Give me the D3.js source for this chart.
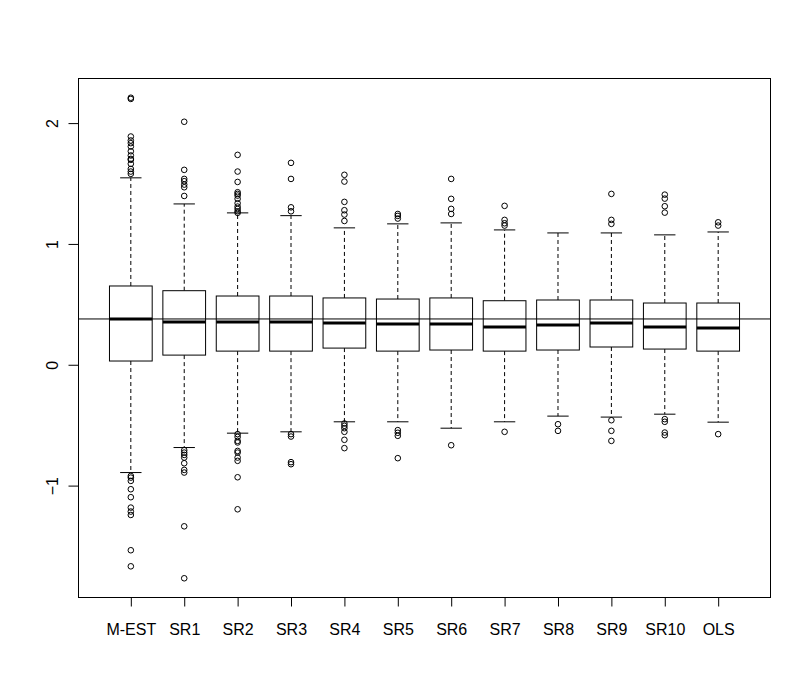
<!DOCTYPE html>
<html>
<head>
<meta charset="utf-8">
<script src="https://cdn.jsdelivr.net/npm/d3@7"></script>
<style>
    body { margin: 0; background: #fff; }
    svg { font-family: "Liberation Sans", Arial, sans-serif; }
</style>
</head>
<body>
<div id="chart"></div>
<script>
// box statistics
var categories = ["M-EST", "SR1", "SR2", "SR3", "SR4", "SR5", "SR6", "SR7", "SR8", "SR9", "SR10", "OLS"];
var q1 = [0.031, 0.080, 0.113, 0.113, 0.138, 0.113, 0.122, 0.113, 0.122, 0.147, 0.130, 0.113];
var medians = [0.379, 0.354, 0.354, 0.354, 0.345, 0.337, 0.337, 0.312, 0.329, 0.345, 0.312, 0.304];
var q3 = [0.652, 0.613, 0.569, 0.569, 0.553, 0.544, 0.553, 0.530, 0.536, 0.536, 0.511, 0.511];
var whiskerLow = [-0.892, -0.685, -0.566, -0.555, -0.472, -0.472, -0.525, -0.472, -0.425, -0.433, -0.409, -0.475];
var whiskerHigh = [1.547, 1.331, 1.257, 1.234, 1.133, 1.166, 1.174, 1.116, 1.091, 1.091, 1.075, 1.099];
var outliers = [
    [2.21, 2.20, 1.889, 1.856, 1.834, 1.806, 1.767, 1.732, 1.704, 1.696, 1.663, 1.621, 1.599, 1.580,
     -0.920, -0.934, -0.961, -1.030, -1.096, -1.182, -1.215, -1.243, -1.535, -1.668],
    [2.011, 1.613, 1.538, 1.519, 1.491, 1.469, 1.397,
     -0.707, -0.727, -0.746, -0.768, -0.815, -0.870, -0.892, -1.337, -1.767],
    [1.737, 1.599, 1.513, 1.428, 1.414, 1.400, 1.373, 1.337, 1.309, 1.290, 1.270, 1.257,
     -0.574, -0.597, -0.630, -0.643, -0.713, -0.727, -0.768, -0.795, -0.931, -1.196],
    [1.671, 1.538, 1.303, 1.270, -0.574, -0.594, -0.806, -0.823],
    [1.572, 1.516, 1.348, 1.279, 1.243, 1.190, -0.486, -0.505, -0.525, -0.555, -0.621, -0.690],
    [1.248, 1.232, 1.210, -0.541, -0.563, -0.588, -0.773],
    [1.538, 1.373, 1.290, 1.248, -0.666],
    [1.315, 1.199, 1.171, 1.152, -0.555],
    [-0.492, -0.547],
    [1.414, 1.199, 1.166, -0.459, -0.547, -0.630],
    [1.408, 1.375, 1.312, 1.259, -0.450, -0.472, -0.561, -0.583],
    [1.179, 1.152, -0.574]
];
var refLine = 0.379;
var yTicks = [-1, 0, 1, 2];

var W = 811, H = 695;
var margin = { top: 78.5, right: 40.5, bottom: 97.5, left: 78.5 },
    width = W - margin.left - margin.right,
    height = H - margin.top - margin.bottom;

var svg = d3.select("#chart").append("svg")
    .attr("width", W)
    .attr("height", H);

var g = svg.append("g")
    .attr("transform", "translate(" + margin.left + "," + margin.top + ")");

// R style ranges: padded by 4%
var allVals = d3.merge(outliers).concat(whiskerLow, whiskerHigh);
var yMin = d3.min(allVals), yMax = d3.max(allVals);
var yPad = (yMax - yMin) * 0.04;
var y = d3.scaleLinear()
    .domain([yMin - yPad, yMax + yPad])
    .range([height, 0]);

var n = categories.length;
var xPad = n * 0.04;
var x = d3.scaleLinear()
    .domain([0.5 - xPad, n + 0.5 + xPad])
    .range([0, width]);

var step = x(2) - x(1);
var boxHalf = step * 0.4;
var capHalf = boxHalf * 0.5;

var boxes = g.selectAll(".box")
    .data(categories)
    .enter().append("g")
    .attr("class", "box")
    .attr("transform", function(d, i) { return "translate(" + x(i + 1) + ",0)"; });

// dashed whiskers
boxes.append("line")
    .attr("y1", function(d, i) { return y(q3[i]); })
    .attr("y2", function(d, i) { return y(whiskerHigh[i]); })
    .attr("stroke", "#000")
    .attr("stroke-dasharray", "4,3");
boxes.append("line")
    .attr("y1", function(d, i) { return y(q1[i]); })
    .attr("y2", function(d, i) { return y(whiskerLow[i]); })
    .attr("stroke", "#000")
    .attr("stroke-dasharray", "4,3");

// staples
boxes.append("line")
    .attr("x1", -capHalf).attr("x2", capHalf)
    .attr("y1", function(d, i) { return y(whiskerHigh[i]); })
    .attr("y2", function(d, i) { return y(whiskerHigh[i]); })
    .attr("stroke", "#000");
boxes.append("line")
    .attr("x1", -capHalf).attr("x2", capHalf)
    .attr("y1", function(d, i) { return y(whiskerLow[i]); })
    .attr("y2", function(d, i) { return y(whiskerLow[i]); })
    .attr("stroke", "#000");

// the box
boxes.append("rect")
    .attr("x", -boxHalf)
    .attr("width", boxHalf * 2)
    .attr("y", function(d, i) { return y(q3[i]); })
    .attr("height", function(d, i) { return y(q1[i]) - y(q3[i]); })
    .attr("fill", "#fff")
    .attr("stroke", "#000");

// median
boxes.append("line")
    .attr("x1", -boxHalf).attr("x2", boxHalf)
    .attr("y1", function(d, i) { return y(medians[i]); })
    .attr("y2", function(d, i) { return y(medians[i]); })
    .attr("stroke", "#000")
    .attr("stroke-width", 3);

// outlier points
boxes.selectAll("circle")
    .data(function(d, i) { return outliers[i]; })
    .enter().append("circle")
    .attr("cx", 0)
    .attr("cy", function(v) { return y(v); })
    .attr("r", 2.8)
    .attr("fill", "none")
    .attr("stroke", "#000");

// horizontal reference line
g.append("line")
    .attr("x1", 0).attr("x2", width)
    .attr("y1", y(refLine)).attr("y2", y(refLine))
    .attr("stroke", "#000");

// frame
g.append("rect")
    .attr("width", width)
    .attr("height", height)
    .attr("fill", "none")
    .attr("stroke", "#000");

// y axis
var yAxis = g.append("g")
    .call(d3.axisLeft(y).tickValues(yTicks).tickSize(10).tickFormat(d3.format("d")));
yAxis.select(".domain").remove();
yAxis.selectAll("text")
    .attr("x", null).attr("dy", null)
    .attr("text-anchor", "middle")
    .attr("transform", "translate(-21,0) rotate(-90)")
    .style("font-size", "16px")
    .attr("fill", "#000");

// x axis
var xAxis = g.append("g")
    .attr("transform", "translate(0," + height + ")")
    .call(d3.axisBottom(x)
        .tickValues(d3.range(1, n + 1))
        .tickSize(9)
        .tickFormat(function(d) { return categories[d - 1]; }));
xAxis.select(".domain").remove();
xAxis.selectAll("text")
    .attr("y", 37).attr("dy", null)
    .style("font-size", "16px")
    .attr("fill", "#000");
svg.selectAll(".tick line").attr("stroke", "#000");
svg.selectAll(".tick text").style("font-family", "'Liberation Sans', Arial, sans-serif");
</script>
</body>
</html>
